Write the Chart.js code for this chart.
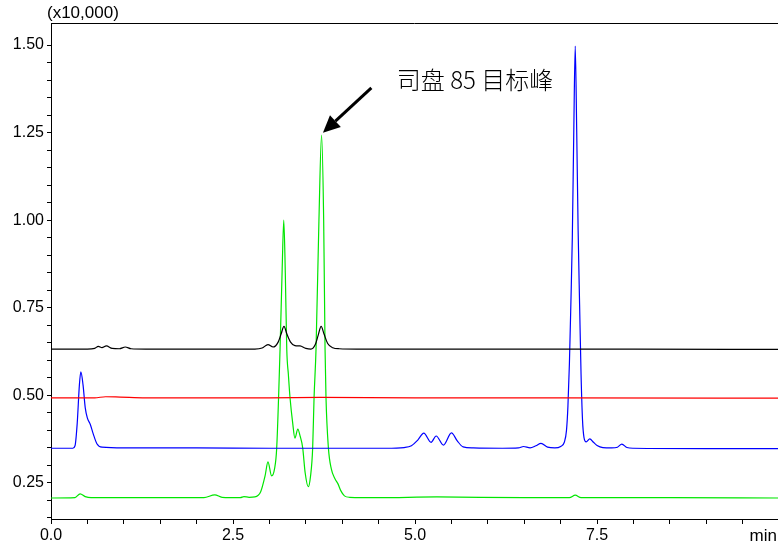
<!DOCTYPE html>
<html>
<head>
<meta charset="utf-8">
<script src="https://cdn.jsdelivr.net/npm/chart.js@4.4.1/dist/chart.umd.min.js"></script>
<style>
  body { margin: 0; background: #fff; }
  canvas { display: block; }
</style>
</head>
<body>
<canvas id="chrom" width="778" height="550"></canvas>
<script>
// retention time (min) / signal (x10,000) for each trace
const blackT = [0, 0.5, 0.60, 0.65, 0.70, 0.76, 0.84, 0.94, 1.02, 1.10, 1.3, 2.0, 2.8, 2.90, 2.98, 3.05, 3.12, 3.16, 3.20, 3.24, 3.29, 3.35, 3.42, 3.50, 3.57, 3.63, 3.67, 3.71, 3.75, 3.80, 3.87, 3.96, 4.2, 6.0, 8.0, 10.0];
const blackV = [0.632, 0.632, 0.634, 0.640, 0.636, 0.641, 0.634, 0.633, 0.638, 0.633, 0.632, 0.632, 0.632, 0.635, 0.645, 0.638, 0.652, 0.675, 0.697, 0.675, 0.652, 0.642, 0.641, 0.634, 0.632, 0.645, 0.672, 0.697, 0.675, 0.648, 0.636, 0.633, 0.632, 0.632, 0.632, 0.631];

const redT = [0, 0.6, 0.75, 0.95, 1.3, 3.0, 3.7, 5.0, 7.0, 10.0];
const redV = [0.493, 0.493, 0.496, 0.495, 0.493, 0.493, 0.494, 0.493, 0.493, 0.492];

const blueT = [0, 0.30, 0.33, 0.36, 0.39, 0.41, 0.44, 0.47, 0.50, 0.54, 0.58, 0.63, 0.70, 1.0, 2.0, 3.0, 4.0, 4.6, 4.85, 4.95, 5.04, 5.12, 5.22, 5.29, 5.39, 5.50, 5.58, 5.66, 5.80, 6.2, 6.42, 6.49, 6.58, 6.66, 6.73, 6.82, 6.92, 7.00, 7.05, 7.08, 7.10, 7.12, 7.14, 7.16, 7.18, 7.20, 7.22, 7.24, 7.26, 7.28, 7.30, 7.32, 7.35, 7.40, 7.45, 7.50, 7.58, 7.70, 7.78, 7.84, 7.91, 8.0, 9.0, 10.0];
const blueV = [0.349, 0.349, 0.356, 0.42, 0.53, 0.567, 0.53, 0.465, 0.435, 0.417, 0.39, 0.362, 0.352, 0.350, 0.350, 0.349, 0.349, 0.349, 0.351, 0.356, 0.373, 0.392, 0.366, 0.384, 0.358, 0.393, 0.37, 0.353, 0.350, 0.349, 0.350, 0.354, 0.350, 0.356, 0.363, 0.352, 0.350, 0.354, 0.366, 0.40, 0.47, 0.59, 0.76, 0.95, 1.25, 1.497, 1.26, 0.97, 0.76, 0.56, 0.43, 0.38, 0.367, 0.376, 0.366, 0.357, 0.351, 0.350, 0.352, 0.361, 0.351, 0.349, 0.348, 0.348];

const greenT = [0, 0.33, 0.40, 0.47, 0.55, 2.10, 2.25, 2.35, 2.60, 2.65, 2.72, 2.80, 2.88, 2.94, 2.98, 3.03, 3.07, 3.10, 3.146, 3.175, 3.197, 3.218, 3.238, 3.26, 3.283, 3.32, 3.35, 3.39, 3.42, 3.457, 3.49, 3.534, 3.565, 3.594, 3.613, 3.64, 3.68, 3.716, 3.745, 3.764, 3.777, 3.81, 3.85, 3.90, 3.94, 3.98, 4.03, 4.10, 4.5, 5.3, 6.5, 7.12, 7.20, 7.28, 8.5, 10.0];
const greenV = [0.207, 0.208, 0.219, 0.211, 0.208, 0.208, 0.216, 0.209, 0.208, 0.211, 0.209, 0.210, 0.225, 0.27, 0.31, 0.27, 0.29, 0.35, 0.632, 0.86, 1.0, 0.85, 0.632, 0.56, 0.493, 0.42, 0.378, 0.404, 0.385, 0.35, 0.28, 0.239, 0.27, 0.35, 0.493, 0.632, 1.0, 1.243, 1.0, 0.632, 0.493, 0.35, 0.29, 0.262, 0.248, 0.228, 0.213, 0.209, 0.208, 0.210, 0.208, 0.208, 0.215, 0.208, 0.208, 0.207];

// axis ticks
const xMajorTicks = [0, 2.5, 5.0, 7.5];
const yMajorTicks = [0.25, 0.50, 0.75, 1.00, 1.25, 1.50];
const xMinorStep = 0.5;
const yMinorStep = 0.05;

// annotation (data units)
const noteText = '司盘 85 目标峰';
const arrowTip = { x: 3.735, y: 1.25 };
const arrowTail = { x: 4.40, y: 1.378 };
const notePos = { x: 4.75, y: 1.402 };

function pts(t, v) {
  return t.map((x, i) => ({ x: x, y: v[i] }));
}

function trace(label, t, v, color) {
  return {
    label: label,
    data: pts(t, v),
    borderColor: color,
    borderWidth: 1.2,
    pointRadius: 0,
    fill: false,
    cubicInterpolationMode: 'monotone'
  };
}

const overlay = {
  id: 'overlay',
  afterDraw(chart) {
    const ctx = chart.ctx;
    const a = chart.chartArea;
    const xs = chart.scales.x;
    const ys = chart.scales.y;
    ctx.save();
    // top frame line
    ctx.strokeStyle = '#000';
    ctx.lineWidth = 1;
    ctx.beginPath();
    ctx.moveTo(a.left, a.top + 0.5);
    ctx.lineTo(a.right, a.top + 0.5);
    ctx.stroke();

    ctx.fillStyle = '#000';
    ctx.font = '17px "Liberation Sans", Arial, sans-serif';
    ctx.textBaseline = 'middle';
    ctx.textAlign = 'left';
    ctx.fillText('(x10,000)', 47, 13);
    ctx.textAlign = 'right';
    ctx.fillText('min', 777, 536);

    // arrow
    const tx = xs.getPixelForValue(arrowTip.x), ty = ys.getPixelForValue(arrowTip.y);
    const sx = xs.getPixelForValue(arrowTail.x), sy = ys.getPixelForValue(arrowTail.y);
    const ang = Math.atan2(ty - sy, tx - sx);
    const headLen = 17, headW = 8;
    const bx = tx - headLen * Math.cos(ang), by = ty - headLen * Math.sin(ang);
    ctx.lineWidth = 3;
    ctx.beginPath();
    ctx.moveTo(sx, sy);
    ctx.lineTo(bx, by);
    ctx.stroke();
    ctx.beginPath();
    ctx.moveTo(tx, ty);
    ctx.lineTo(bx + headW * Math.sin(ang), by - headW * Math.cos(ang));
    ctx.lineTo(bx - headW * Math.sin(ang), by + headW * Math.cos(ang));
    ctx.closePath();
    ctx.fill();

    ctx.font = '300 24px "Noto Sans CJK SC", sans-serif';
    ctx.textAlign = 'left';
    ctx.fillText(noteText, xs.getPixelForValue(notePos.x), ys.getPixelForValue(notePos.y));
    ctx.restore();
  }
};

new Chart(document.getElementById('chrom'), {
  type: 'line',
  data: {
    datasets: [
      trace('black', blackT, blackV, '#000000'),
      trace('red', redT, redV, '#ff0000'),
      trace('blue', blueT, blueV, '#0000ff'),
      trace('green', greenT, greenV, '#00e600')
    ]
  },
  options: {
    responsive: false,
    animation: false,
    events: [],
    layout: { padding: { top: 23, right: 0, left: 0, bottom: 0 } },
    plugins: { legend: { display: false }, tooltip: { enabled: false } },
    scales: {
      x: {
        type: 'linear',
        min: 0,
        max: 9.985,
        afterBuildTicks: (s) => {
          const t = [];
          for (let v = 0; v <= 9.98; v += xMinorStep) t.push({ value: Math.round(v * 10) / 10 });
          s.ticks = t;
        },
        afterFit: (s) => { s.height = 31; },
        ticks: {
          autoSkip: false,
          maxRotation: 0,
          padding: 2,
          color: '#000',
          font: { family: '"Liberation Sans", Arial, sans-serif', size: 16 },
          callback: (v) => xMajorTicks.includes(v) ? v.toFixed(1) : ''
        },
        grid: { drawOnChartArea: false, drawTicks: true, tickLength: 5, color: '#000' },
        border: { display: true, color: '#000', width: 1 }
      },
      y: {
        type: 'linear',
        min: 0.147,
        max: 1.563,
        afterBuildTicks: (s) => {
          const t = [];
          for (let v = 0.15; v <= 1.5001; v += yMinorStep) t.push({ value: Math.round(v * 100) / 100 });
          s.ticks = t;
        },
        afterFit: (s) => { s.width = 51; },
        ticks: {
          autoSkip: false,
          padding: 3,
          color: '#000',
          font: { family: '"Liberation Sans", Arial, sans-serif', size: 16 },
          callback: (v) => yMajorTicks.includes(v) ? v.toFixed(2) : ''
        },
        grid: { drawOnChartArea: false, drawTicks: true, tickLength: 4, color: '#000' },
        border: { display: true, color: '#000', width: 1 }
      }
    }
  },
  plugins: [overlay]
});
</script>
</body>
</html>
